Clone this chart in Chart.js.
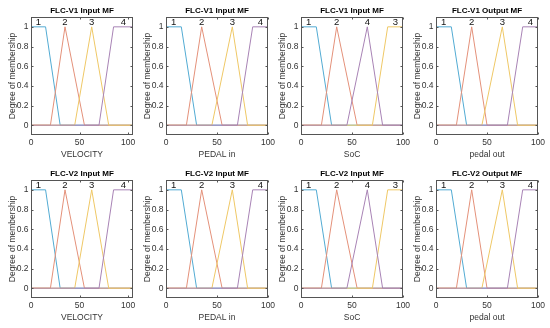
<!DOCTYPE html>
<html>
<head>
<meta charset="utf-8">
<script src="https://cdn.jsdelivr.net/npm/chart.js@4.4.1/dist/chart.umd.min.js"></script>
<style>
  body { margin: 0; background: #fff; }
  #wrap { position: relative; width: 550px; height: 328px; overflow: hidden; }
  #wrap canvas { position: absolute; }
</style>
</head>
<body>
<div id="wrap"></div>
<script>
// panel titles, left to right, top row then bottom row
const panelTitles = [
  'FLC-V1 Input MF', 'FLC-V1 Input MF', 'FLC-V1 Input MF', 'FLC-V1 Output MF',
  'FLC-V2 Input MF', 'FLC-V2 Input MF', 'FLC-V2 Input MF', 'FLC-V2 Output MF'
];
const xLabels = ['VELOCITY', 'PEDAL in', 'SoC', 'pedal out'];
const xMax = [105, 100, 100, 100];
const xTicks = [0, 50, 100];
const yTicks = [0, 0.2, 0.4, 0.6, 0.8, 1];
const mfNames = ['1', '2', '3', '4'];

// trapezoid params [a, b, c, d]; a triangle has b == c
const velocityMF = [[-15, 0, 15, 30], [20, 35, 35, 55], [45, 62.5, 62.5, 80], [70, 85, 105, 120]];
const pedalInMF  = [[-15, 0, 15, 30], [20, 35, 35, 55], [45, 65, 65, 80], [70, 85, 100, 115]];
const socMF      = [[-15, 0, 15, 30], [20, 35, 35, 55], [70, 85, 100, 115], [45, 65, 65, 80]];
const pedalOutMF = [[-15, 0, 15, 30], [20, 35, 35, 50], [45, 65, 65, 80], [70, 85, 100, 115]];
const panelMF = [velocityMF, pedalInMF, socMF, pedalOutMF];

const mfColors = ['#52abd3', '#e4917a', '#efc866', '#a883b5'];
const FONT = '"Liberation Sans", Arial, sans-serif';
const TEXT = '#333';

function trapmf(x, p) {
  const [a, b, c, d] = p;
  if (x < a || x > d) return 0;
  if (x >= b && x <= c) return 1;
  if (x < b) return (x - a) / (b - a);
  return (d - x) / (d - c);
}

function mfPoints(p, lo, hi) {
  const xs = [lo, hi].concat(p).filter(v => v >= lo && v <= hi);
  const uniq = [...new Set(xs)].sort((m, n) => m - n);
  return uniq.map(v => ({ x: v, y: trapmf(v, p) }));
}

const mfDecor = {
  id: 'mfDecor',
  afterDatasetsDraw(chart, args, opts) {
    const { ctx, chartArea: a, scales: { x, y } } = chart;
    ctx.save();
    // membership function names above each peak
    ctx.font = '9.5px ' + FONT;
    ctx.fillStyle = '#111';
    ctx.textAlign = 'center';
    ctx.textBaseline = 'alphabetic';
    opts.mf.forEach((p, i) => {
      const lo = Math.max(p[1], x.min), hi = Math.min(p[2], x.max);
      ctx.fillText(mfNames[i], x.getPixelForValue((lo + hi) / 2), y.getPixelForValue(1) - 1.5);
    });
    // box and inward ticks
    const L = Math.round(a.left) + 0.5, R = Math.round(a.right) - 0.5;
    const T = Math.round(a.top) + 0.5, B = Math.round(a.bottom) - 0.5;
    ctx.strokeStyle = '#555';
    ctx.lineWidth = 1;
    ctx.strokeRect(L, T, R - L, B - T);
    ctx.beginPath();
    xTicks.forEach(v => {
      const px = Math.round(x.getPixelForValue(v)) + 0.5;
      ctx.moveTo(px, B); ctx.lineTo(px, B - 2);
      ctx.moveTo(px, T); ctx.lineTo(px, T + 2);
    });
    yTicks.forEach(v => {
      const py = Math.round(y.getPixelForValue(v)) + 0.5;
      ctx.moveTo(L, py); ctx.lineTo(L + 2, py);
      ctx.moveTo(R, py); ctx.lineTo(R - 2, py);
    });
    ctx.stroke();
    ctx.restore();
  }
};

const wrap = document.getElementById('wrap');
const colLeft = [0, 135, 270, 405];
const rowTop = [0, 163];

panelTitles.forEach((title, k) => {
  const col = k % 4, row = Math.floor(k / 4);
  const mf = panelMF[col];
  const cv = document.createElement('canvas');
  cv.width = 145; cv.height = 164;
  cv.style.left = colLeft[col] + 'px';
  cv.style.top = rowTop[row] + 'px';
  wrap.appendChild(cv);

  new Chart(cv, {
    type: 'scatter',
    data: {
      datasets: mf.map((p, i) => ({
        data: mfPoints(p, 0, xMax[col]),
        showLine: true,
        borderColor: mfColors[i],
        backgroundColor: mfColors[i],
        borderWidth: 1,
        pointRadius: 0,
        tension: 0,
        order: mf.length - i
      }))
    },
    options: {
      responsive: false,
      animation: false,
      events: [],
      layout: { padding: { right: 12 } },
      scales: {
        x: {
          type: 'linear',
          min: 0, max: xMax[col],
          afterBuildTicks: s => { s.ticks = xTicks.map(v => ({ value: v })); },
          afterFit: s => { s.height = 29; s.paddingLeft = 0; s.paddingRight = 0; },
          grid: { display: false, drawTicks: false },
          border: { display: false },
          ticks: { font: { family: FONT, size: 8.5 }, color: TEXT, padding: 3, maxRotation: 0, autoSkip: false, callback: v => String(v) },
          title: { display: true, text: xLabels[col], font: { family: FONT, size: 8.5 }, color: TEXT, padding: { top: 0, bottom: 4 } }
        },
        y: {
          min: -0.1, max: 1.1,
          afterBuildTicks: s => { s.ticks = yTicks.map(v => ({ value: v })); },
          afterFit: s => { s.width = 31; s.paddingTop = 0; s.paddingBottom = 0; },
          grid: { display: false, drawTicks: false },
          border: { display: false },
          ticks: { font: { family: FONT, size: 8.5 }, color: TEXT, padding: 2.5, autoSkip: false, callback: v => String(v) },
          title: { display: true, text: 'Degree of membership', font: { family: FONT, size: 8.5 }, color: TEXT, padding: { top: 8, bottom: 0 } }
        }
      },
      plugins: {
        legend: { display: false },
        tooltip: { enabled: false },
        title: {
          display: true, fullSize: false, text: title, color: '#000',
          font: { family: FONT, size: 8, weight: 'bold' }, padding: { top: 6, bottom: 1.4 }
        },
        mfDecor: { mf: mf }
      }
    },
    plugins: [mfDecor]
  });
});
</script>
</body>
</html>
